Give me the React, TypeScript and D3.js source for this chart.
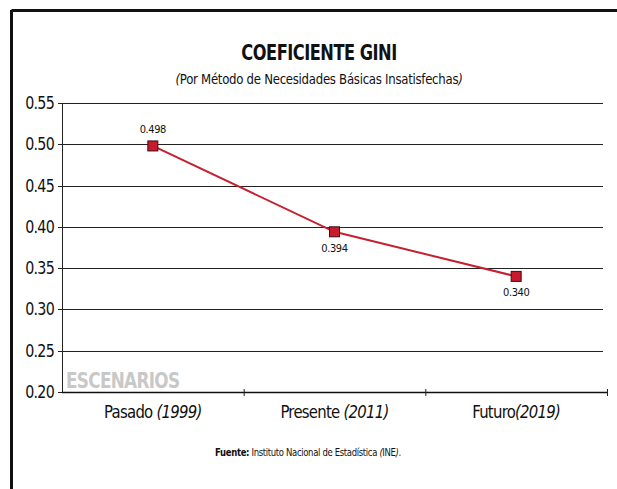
import React from "react";
import * as d3 from "d3";

const categories = ["Pasado", "Presente", "Futuro"];
const years = ["1999", "2011", "2019"];
const values = [0.498, 0.394, 0.34];
const valueLabels = ["0.498", "0.394", "0.340"];
const yTicks = [0.2, 0.25, 0.3, 0.35, 0.4, 0.45, 0.5, 0.55];

const FONT = "'DejaVu Sans Condensed', 'DejaVu Sans', sans-serif";

export default function App() {
  const W = 617, H = 489;
  const left = 62, right = 607, top = 103, bottom = 392;
  const x = d3.scaleBand().domain(categories).range([left, right]);
  const y = d3.scaleLinear().domain([0.2, 0.55]).range([bottom, top]);
  const line = d3.line<number>().x((_, i) => x(categories[i])! + x.bandwidth() / 2).y((d) => y(d));
  const labelOffset = [-13, 20, 20];

  return (
    <svg width={W} height={H} style={{ position: "absolute", left: 0, top: 0, fontFamily: FONT, fontStretch: "condensed" }}>
      <rect x={0} y={0} width={W} height={H} fill="#fff" />
      {/* frame */}
      <line x1={11.5} y1={10.5} x2={W} y2={10.5} stroke="#111" strokeWidth={3} />
      <line x1={11.5} y1={10} x2={11.5} y2={H} stroke="#111" strokeWidth={3} />

      <text transform="translate(319,60) scale(0.84,1)" textAnchor="middle" fontSize={21.5} fontWeight="bold" fill="#111" letterSpacing={-0.6}>COEFICIENTE GINI</text>
      <text transform="translate(319,84) scale(0.9,1)" textAnchor="middle" fontSize={14.5} fill="#111" letterSpacing={-0.3}>
        <tspan fontStyle="italic">(</tspan>Por Método de Necesidades Básicas Insatisfechas<tspan fontStyle="italic">)</tspan>
      </text>

      {/* gridlines and y ticks */}
      {yTicks.map((t) => (
        <g key={t}>
          <line x1={left} x2={603} y1={Math.round(y(t)) + 0.5} y2={Math.round(y(t)) + 0.5} stroke="#222" strokeWidth={1} />
          <line x1={left - 4} x2={left} y1={Math.round(y(t)) + 0.5} y2={Math.round(y(t)) + 0.5} stroke="#222" strokeWidth={1} />
          <text transform={`translate(54,${y(t) + 6}) scale(0.88,1)`} textAnchor="end" fontSize={18} fill="#111" letterSpacing={-0.8}>{t.toFixed(2)}</text>
        </g>
      ))}
      <line x1={left + 0.5} x2={left + 0.5} y1={top} y2={bottom} stroke="#222" strokeWidth={1} />
      {/* x axis */}
      <line x1={left} x2={right} y1={bottom + 0.5} y2={bottom + 0.5} stroke="#111" strokeWidth={1.5} />
      {categories.map((c) => (
        <line key={c} x1={x(c)! + x.bandwidth() + 0.5} x2={x(c)! + x.bandwidth() + 0.5} y1={bottom - 3} y2={bottom + 4} stroke="#222" strokeWidth={1} />
      ))}

      <text transform="translate(66,388) scale(0.85,1)" fontSize={22} fontWeight="bold" fill="#c8c8c8" letterSpacing={-0.8}>ESCENARIOS</text>

      {categories.map((c, i) => (
        <text key={c} transform={`translate(${x(c)! + x.bandwidth() / 2},418) scale(0.92,1)`} textAnchor="middle" fontSize={18} fill="#111" letterSpacing={-0.8}>
          {c + (i === 2 ? "" : " ")}<tspan fontStyle="italic">({years[i]})</tspan>
        </text>
      ))}

      <path d={line(values)!} fill="none" stroke="#c4202f" strokeWidth={2} />
      {values.map((v, i) => {
        const cx = x(categories[i])! + x.bandwidth() / 2;
        return (
          <g key={i}>
            <rect x={cx - 5} y={y(v) - 5} width={10} height={10} fill="#c8192e" stroke="#3a1010" strokeWidth={1} />
            <text x={cx} y={y(v) + labelOffset[i]} textAnchor="middle" fontSize={11} fill="#111" letterSpacing={-0.4}>{valueLabels[i]}</text>
          </g>
        );
      })}

      <text transform="translate(308,456) scale(0.86,1)" textAnchor="middle" fontSize={11} fill="#111" letterSpacing={-0.4}>
        <tspan fontWeight="bold">Fuente:</tspan> Instituto Nacional de Estadística <tspan fontStyle="italic">(</tspan>INE<tspan fontStyle="italic">)</tspan>.
      </text>
    </svg>
  );
}
